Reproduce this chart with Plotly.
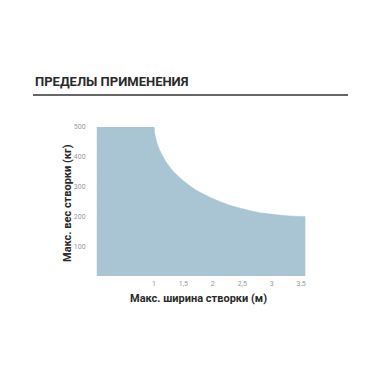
import plotly.graph_objects as go

# Curve (width m -> max weight kg)
widths = [0.03, 0.6, 1.0, 1.01, 1.03, 1.06, 1.1, 1.2, 1.33, 1.5, 1.72, 2.0, 2.28, 2.6, 2.85, 3.2, 3.45, 3.57]
weights = [500, 500, 500, 482, 463, 442, 422, 385, 351, 320, 288, 260, 238, 221, 211, 203, 200, 200]

x_ticks = [1, 1.5, 2, 2.5, 3, 3.5]
x_ticktext = ["1", "1,5", "2", "2,5", "3", "3,5"]
y_ticks = [100, 200, 300, 400, 500]

title_text = "ПРЕДЕЛЫ ПРИМЕНЕНИЯ"
x_title = "Макс. ширина створки (м)"
y_title = "Макс. вес створки (кг)"

FILL = "#a9c4d2"
FONT = "Roboto, Liberation Sans, sans-serif"

L, R, T, B = 95, 310, 127, 276
W, H = R - L, B - T

def px(x):
    return (x - L) / W

def py(y):
    return (B - y) / H

fig = go.Figure()
fig.add_trace(go.Scatter(
    x=widths, y=weights,
    mode="lines", fill="tozeroy", fillcolor=FILL,
    line=dict(width=0.5, color=FILL, shape="spline", smoothing=0.6),
    hoverinfo="skip",
))

fig.update_layout(
    width=380, height=380,
    margin=dict(l=L, r=380 - R, t=T, b=380 - B),
    paper_bgcolor="white", plot_bgcolor="white",
    showlegend=False,
    xaxis=dict(range=[0, 3.65], tickvals=x_ticks, ticktext=x_ticktext,
               showgrid=False, zeroline=False, showline=False,
               ticks="outside", ticklen=1, tickcolor="white",
               tickfont=dict(family=FONT, size=7, color="#999999")),
    yaxis=dict(range=[0, 500], tickvals=y_ticks,
               showgrid=False, zeroline=False, showline=False,
               ticks="outside", ticklen=7, tickcolor="white",
               tickfont=dict(family=FONT, size=7, color="#999999")),
    annotations=[
        dict(text="<b>" + title_text + "</b>", x=px(33), y=py(81), xref="paper", yref="paper",
             xanchor="left", yanchor="middle", showarrow=False,
             font=dict(family=FONT, size=13, color="#2a2a2a")),
        dict(text="<b>" + y_title + "</b>", x=px(67), y=py(203), xref="paper", yref="paper",
             xanchor="center", yanchor="middle", textangle=-90, showarrow=False,
             font=dict(family=FONT, size=11, color="#2a2a2a")),
        dict(text="<b>" + x_title + "</b>", x=px(198), y=py(298), xref="paper", yref="paper",
             xanchor="center", yanchor="middle", showarrow=False,
             font=dict(family=FONT, size=11, color="#2a2a2a")),
    ],
    shapes=[dict(type="line", xref="paper", yref="paper",
                 x0=px(33), x1=px(348), y0=py(95), y1=py(95),
                 line=dict(color="#666", width=2))],
)

fig.write_html("out.html")
